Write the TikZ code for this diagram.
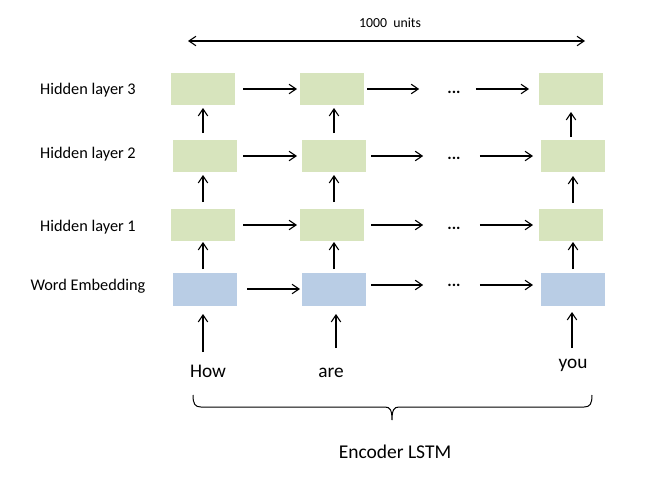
\documentclass[tikz,border=0pt]{standalone}
\usepackage{fontspec}
\setmainfont{Carlito}
\usetikzlibrary{arrows.meta}
\definecolor{hgreen}{RGB}{215,228,189}
\definecolor{eblue}{RGB}{185,205,229}
\begin{document}
\begin{tikzpicture}[x=1pt,y=-1pt,
  box/.style={minimum width=64pt,minimum height=32pt,inner sep=0pt,outer sep=0pt},
  hbox/.style={box,fill=hgreen},
  ebox/.style={box,fill=eblue,minimum height=33pt},
  tipstyle/.style={line width=1.1pt},
  arr/.style={tipstyle,-{Straight Barb[length=7pt,width=9.5pt]}},
  darr/.style={tipstyle,{Straight Barb[length=7pt,width=9.5pt]}-{Straight Barb[length=7pt,width=9.5pt]}},
  lab/.style={font=\fontsize{16.3}{19}\selectfont,inner sep=0pt},
  word/.style={font=\fontsize{19.3}{23}\selectfont,anchor=base,inner sep=0pt},
  dotsnode/.style={font=\fontsize{16.5}{19}\selectfont\bfseries,inner sep=0pt}]
\useasboundingbox (0,0) rectangle (662,491);

% boxes
\node[hbox] (h31) at (203,89) {};
\node[hbox] (h32) at (332,89) {};
\node[hbox] (h33) at (571,89) {};
\node[hbox] (h21) at (205,156) {};
\node[hbox] (h22) at (334,156) {};
\node[hbox] (h23) at (573,156) {};
\node[hbox] (h11) at (203,225) {};
\node[hbox] (h12) at (332,225) {};
\node[hbox] (h13) at (571,225) {};
\node[ebox] (e1) at (205,289.5) {};
\node[ebox] (e2) at (334,289.5) {};
\node[ebox] (e3) at (573,289.5) {};

% dots
\node[dotsnode] (d3) at (454,92) {...};
\node[dotsnode] (d2) at (454,158) {...};
\node[dotsnode] (d1) at (454,228) {...};
\node[dotsnode] (d0) at (454,285) {...};

% row labels
\node[lab] (l3) at (88,90) {Hidden layer 3};
\node[lab] (l2) at (88,154) {Hidden layer 2};
\node[lab] (l1) at (88,227) {Hidden layer 1};
\node[lab] (l0) at (88,286) {Word Embedding};

% horizontal arrows
\draw[arr,shorten <=8pt,shorten >=3pt] (h31.east) -- (h32.west);
\draw[arr,shorten <=3pt,shorten >=28pt] (h32.east) -- (h32.east -| d3.west);
\draw[arr,shorten <=15pt,shorten >=10pt] (d3.east |- h33.west) -- (h33.west);

\draw[arr,shorten <=6pt,shorten >=5pt] (h21.east) -- (h22.west);
\draw[arr,shorten <=5pt,shorten >=24pt] (h22.east) -- (h22.east -| d2.west);
\draw[arr,shorten <=19pt,shorten >=8pt] (d2.east |- h23.west) -- (h23.west);

\draw[arr,shorten <=8pt,shorten >=3pt] (h11.east) -- (h12.west);
\draw[arr,shorten <=7pt,shorten >=24pt] (h12.east) -- (h12.east -| d1.west);
\draw[arr,shorten <=19pt,shorten >=6pt] (d1.east |- h13.west) -- (h13.west);

\draw[arr,shorten <=10pt,shorten >=2pt] ([yshift=0.5pt]e1.east) -- ([yshift=0.5pt]e2.west);
\draw[arr,shorten <=5pt,shorten >=24pt] ([yshift=4.5pt]e2.east) -- (d0.west);
\draw[arr,shorten <=19pt,shorten >=8pt] (d0.east) -- (d0.east -| e3.west);

% vertical arrows
\draw[arr,shorten <=4pt,shorten >=1pt] (h11.south |- e1.north) -- (h11.south);
\draw[arr,shorten <=7pt,shorten >=3pt] (h11.north) -- (h11.north |- h21.south);
\draw[arr,shorten <=7pt,shorten >=3pt] (h31.south |- h21.north) -- (h31.south);

\draw[arr,shorten <=4pt,shorten >=1pt] (e2.north) -- (e2.north |- h12.south);
\draw[arr,shorten <=7pt,shorten >=3pt] (h22.south |- h12.north) -- (h22.south);
\draw[arr,shorten <=7pt,shorten >=3pt] (h22.north) -- (h22.north |- h32.south);

\draw[arr,shorten <=4pt,shorten >=1pt] (e3.north) -- (e3.north |- h13.south);
\draw[arr,shorten <=6pt,shorten >=4pt] (h23.south |- h13.north) -- (h23.south);
\draw[arr,shorten <=3pt,shorten >=7pt] (h33.south |- h23.north) -- (h33.south);

% inputs
\node[word] (w1) at (208,377) {How};
\node[word] (w2) at (331,377) {are};
\node[word] (w3) at (573,368) {you};
\coordinate (i1) at (203,352);
\coordinate (i2) at (336,348);
\coordinate (i3) at (572,348);
\draw[arr,shorten >=8pt] (i1) -- (i1 |- e1.south);
\draw[arr,shorten >=8pt] (i2) -- (i2 |- e2.south);
\draw[arr,shorten >=6pt] (i3) -- (i3 |- e3.south);

% top span
\coordinate (tl) at (188,41);
\coordinate (tr) at (585,41);
\draw[darr] (tl) -- (tr);
\node[font=\fontsize{13.8}{16}\selectfont,inner sep=0pt] (units) at (390,23) {1000\ \ units};

% brace
\coordinate (bl) at (193,395);
\coordinate (br) at (592,395);
\coordinate (bm) at (392,420);
\draw[line width=1pt] (bl) .. controls (193,404) and (195,407) .. (201,407) -- (385,407)
  .. controls (390,407) and (392,410) .. (bm)
  .. controls (392,410) and (394,407) .. (399,407) -- (584,407)
  .. controls (590,407) and (592,404) .. (br);
\node[font=\fontsize{19.5}{23}\selectfont,inner sep=0pt] (enc) at (395,452) {Encoder LSTM};
\end{tikzpicture}
\end{document}
